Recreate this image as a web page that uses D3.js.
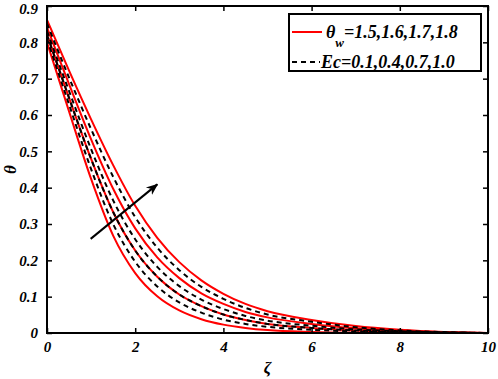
<!DOCTYPE html>
<html>
<head>
<meta charset="utf-8">
<script src="https://cdn.jsdelivr.net/npm/d3@7"></script>
<style>
  body { margin: 0; background: #fff; }
  text { font-family: "Liberation Serif", "Times New Roman", serif; font-weight: bold; font-style: italic; }
</style>
</head>
<body>
<div id="main"></div>
<script>
// zeta grid shared by all curves
const zeta = [0, 0.5, 1, 1.5, 2, 2.5, 3, 3.5, 4, 4.5, 5, 6, 7, 8, 9, 10];

// red solid curves, theta_w = 1.5, 1.6, 1.7, 1.8
const thetaW15 = [0.800, 0.610, 0.424, 0.268, 0.165, 0.101, 0.062, 0.038, 0.023, 0.014, 0.008, 0.003, 0.001, 0.0005, 0.0002, 0];
const thetaW16 = [0.821, 0.647, 0.479, 0.333, 0.227, 0.155, 0.106, 0.074, 0.051, 0.036, 0.025, 0.014, 0.007, 0.003, 0.001, 0];
const thetaW17 = [0.841, 0.685, 0.533, 0.397, 0.288, 0.208, 0.151, 0.109, 0.080, 0.058, 0.043, 0.025, 0.013, 0.006, 0.002, 0];
const thetaW18 = [0.862, 0.722, 0.588, 0.462, 0.350, 0.262, 0.195, 0.145, 0.108, 0.080, 0.060, 0.036, 0.019, 0.009, 0.003, 0];

// black dashed curves, Ec = 0.1, 0.4, 0.7, 1.0
const ec01 = [0.810, 0.629, 0.451, 0.300, 0.196, 0.128, 0.084, 0.056, 0.037, 0.025, 0.017, 0.009, 0.004, 0.002, 0.0007, 0];
const ec04 = [0.821, 0.647, 0.479, 0.333, 0.227, 0.155, 0.106, 0.074, 0.051, 0.036, 0.025, 0.014, 0.007, 0.003, 0.001, 0];
const ec07 = [0.831, 0.666, 0.506, 0.365, 0.258, 0.182, 0.129, 0.092, 0.066, 0.047, 0.034, 0.020, 0.010, 0.005, 0.0016, 0];
const ec10 = [0.852, 0.703, 0.561, 0.430, 0.319, 0.235, 0.173, 0.127, 0.094, 0.069, 0.051, 0.031, 0.016, 0.007, 0.0025, 0];

const xTicks = [0, 2, 4, 6, 8, 10];
const yTicks = [0, 0.1, 0.2, 0.3, 0.4, 0.5, 0.6, 0.7, 0.8, 0.9];

const redSeries = [thetaW15, thetaW16, thetaW17, thetaW18];
const dashSeries = [ec01, ec04, ec07, ec10];

const W = 498, H = 379;
const margin = {top: 6, right: 10, bottom: 46, left: 47};
const w = W - margin.left - margin.right;
const h = H - margin.top - margin.bottom;

const svg = d3.select('#main')
              .append('svg')
              .attr('width', W)
              .attr('height', H);

const x = d3.scaleLinear().domain([0, 10]).range([margin.left, margin.left + w]);
const y = d3.scaleLinear().domain([0, 0.9]).range([margin.top + h, margin.top]);

svg.append('defs')
   .append('marker')
   .attr('id', 'head')
   .attr('viewBox', '0 0 10 10')
   .attr('refX', 9).attr('refY', 5)
   .attr('markerWidth', 6).attr('markerHeight', 6)
   .attr('markerUnits', 'strokeWidth')
   .attr('orient', 'auto')
   .append('path')
   .attr('d', 'M0,1 L10,5 L0,9 L3,5 Z')
   .attr('fill', '#000');

const line = d3.line()
               .x((d, i) => x(zeta[i]))
               .y((d) => y(d))
               .curve(d3.curveMonotoneX);

svg.selectAll('.red')
   .data(redSeries)
   .enter()
   .append('path')
   .attr('class', 'red')
   .attr('d', line)
   .attr('fill', 'none')
   .attr('stroke', '#ff0000')
   .attr('stroke-width', 2);

svg.selectAll('.dash')
   .data(dashSeries)
   .enter()
   .append('path')
   .attr('class', 'dash')
   .attr('d', line)
   .attr('fill', 'none')
   .attr('stroke', '#000')
   .attr('stroke-width', 2)
   .attr('stroke-dasharray', '5,4');

// arrow
svg.append('line')
   .attr('x1', x(0.99)).attr('y1', y(0.259))
   .attr('x2', x(2.5)).attr('y2', y(0.409))
   .attr('stroke', '#000')
   .attr('stroke-width', 2)
   .attr('marker-end', 'url(#head)');

// axes, ticks inside on all four sides
const axB = d3.axisBottom(x).tickValues(xTicks).tickSizeInner(-5).tickSizeOuter(0).tickPadding(8).tickFormat(d3.format('d'));
const axT = d3.axisTop(x).tickValues(xTicks).tickSizeInner(-5).tickSizeOuter(0).tickFormat('');
const axL = d3.axisLeft(y).tickValues(yTicks).tickSizeInner(-5).tickSizeOuter(0).tickPadding(9).tickFormat((d) => d === 0 ? '0' : d3.format('.1f')(d));
const axR = d3.axisRight(y).tickValues(yTicks).tickSizeInner(-5).tickSizeOuter(0).tickFormat('');

svg.append('g').attr('transform', 'translate(0,' + (margin.top + h) + ')').call(axB);
svg.append('g').attr('transform', 'translate(0,' + margin.top + ')').call(axT);
const gl = svg.append('g').attr('transform', 'translate(' + margin.left + ',0)').call(axL);
svg.append('g').attr('transform', 'translate(' + (margin.left + w) + ',0)').call(axR);

svg.selectAll('.domain').remove();
svg.selectAll('.tick line').attr('stroke', '#000').attr('stroke-width', 1.5);
svg.selectAll('.tick text')
   .attr('font-family', '"Liberation Serif", serif')
   .attr('font-weight', 'bold')
   .attr('font-style', 'italic')
   .attr('font-size', 15)
   .attr('fill', '#000');
// keep the top label inside the page
gl.selectAll('.tick text').filter((d) => d === 0.9).attr('dy', '0.5em');

svg.append('rect')
   .attr('x', margin.left).attr('y', margin.top)
   .attr('width', w).attr('height', h)
   .attr('fill', 'none')
   .attr('stroke', '#000')
   .attr('stroke-width', 2);

// axis titles
svg.append('text')
   .attr('x', x(5)).attr('y', 373)
   .attr('text-anchor', 'middle')
   .attr('font-size', 17)
   .text('ζ');

svg.append('text')
   .attr('transform', 'translate(16,' + y(0.45) + ') rotate(-90)')
   .attr('text-anchor', 'middle')
   .attr('font-size', 17)
   .text('θ');

// legend
const lg = svg.append('g').attr('id', 'legend');
lg.append('rect')
  .attr('x', 289).attr('y', 14)
  .attr('width', 192).attr('height', 57)
  .attr('fill', '#fff')
  .attr('stroke', '#000')
  .attr('stroke-width', 2);

lg.append('line')
  .attr('x1', 292).attr('x2', 322).attr('y1', 32).attr('y2', 32)
  .attr('stroke', '#ff0000').attr('stroke-width', 2);

const t1 = lg.append('text').attr('x', 326).attr('y', 38).attr('font-size', 18);
t1.append('tspan').text('θ');
t1.append('tspan').attr('dy', 9).attr('font-size', 13).text('w');
t1.append('tspan').attr('dy', -9).text('=1.5,1.6,1.7,1.8');

lg.append('line')
  .attr('x1', 292).attr('x2', 320).attr('y1', 62).attr('y2', 62)
  .attr('stroke', '#000').attr('stroke-width', 2)
  .attr('stroke-dasharray', '5,4');

lg.append('text')
  .attr('x', 321).attr('y', 68)
  .attr('font-size', 18)
  .text('Ec=0.1,0.4,0.7,1.0');
</script>
</body>
</html>
